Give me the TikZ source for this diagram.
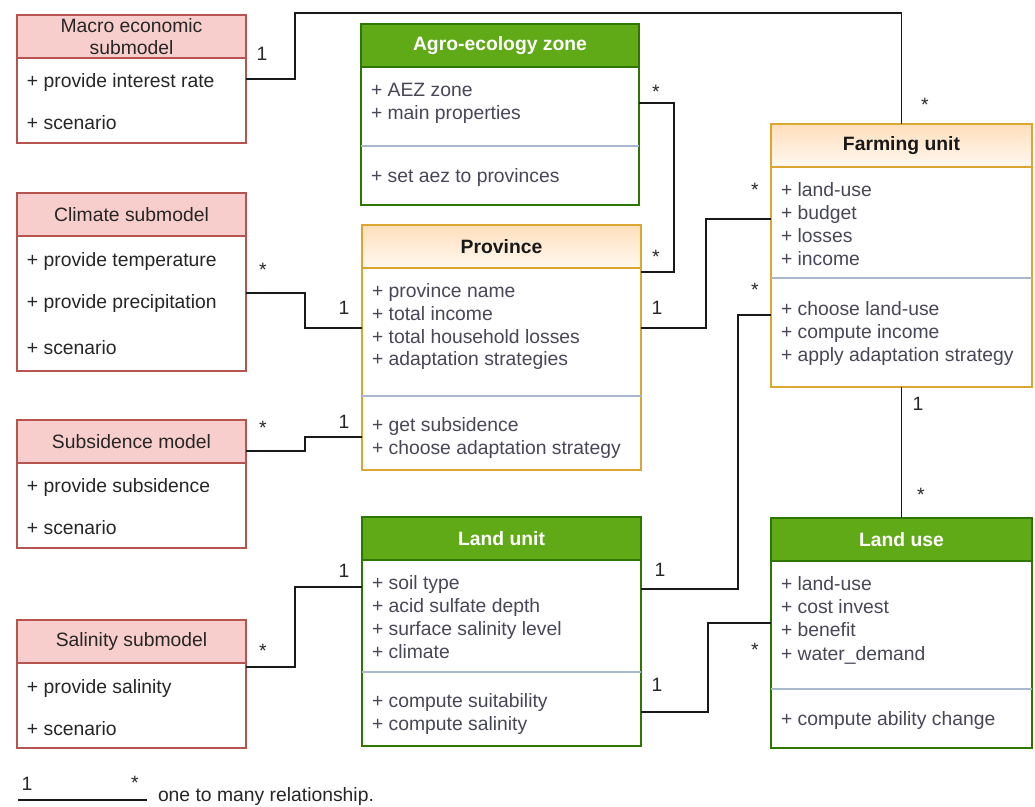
\documentclass[tikz,border=0pt]{standalone}
\usepackage{fontspec}
\setmainfont{Liberation Sans}
\usetikzlibrary{positioning}
\definecolor{redfill}{HTML}{F8CECC}
\definecolor{redline}{HTML}{B85450}
\definecolor{greenfill}{HTML}{60A917}
\definecolor{greenline}{HTML}{2D7600}
\definecolor{orangeline}{HTML}{DBA631}
\definecolor{orangetop}{HTML}{FFDFBC}
\definecolor{orangebot}{HTML}{FFF8F0}
\definecolor{itemgray}{HTML}{474757}
\definecolor{sepblue}{HTML}{A8B8CE}
\tikzset{
  every node/.style={font=\fontsize{11}{12.5}\selectfont, inner sep=0pt, outer sep=0pt},
  redhead/.style={draw=redline, line width=0.8pt, fill=redfill, minimum width=4.58cm, minimum height=0.86cm, align=center, text=black!85},
  redbody/.style={draw=redline, line width=0.8pt, fill=white, minimum width=4.58cm},
  greenhead/.style={draw=greenline, line width=0.8pt, fill=greenfill, minimum height=0.86cm, text=white, font=\fontsize{11}{12.5}\selectfont\bfseries},
  greenbody/.style={draw=greenline, line width=0.8pt, fill=white},
  orangehead/.style={draw=orangeline, line width=0.8pt, top color=orangetop, bottom color=orangebot, minimum height=0.86cm, text=black!90, font=\fontsize{11}{12.5}\selectfont\bfseries},
  orangebody/.style={draw=orangeline, line width=0.8pt, fill=white},
  item/.style={anchor=base west, text=itemgray, yshift=-0.03cm},
  reditem/.style={anchor=base west, text=black!85, yshift=-0.03cm},
  sepline/.style={draw=sepblue, line width=0.6pt},
  assoc/.style={draw=black!90, line width=0.8pt},
  mult/.style={text=black!85}
}
\begin{document}
\begin{tikzpicture}[x=0.02cm, y=-0.02cm]
\useasboundingbox (0,0) rectangle (1035,807);

% submodels
\node[redhead] (macroT) at (131.5,36.5) {Macro economic\\submodel};
\node[redbody, minimum height=1.7cm, below=0pt of macroT] (macro) {};
\foreach \y/\txt [count=\i] in {86/+ provide interest rate, 128/+ scenario}
  \node[reditem] (macro-\i) at (27,\y) {\txt};

\node[redhead] (climateT) at (131.5,214.5) {Climate submodel};
\node[redbody, minimum height=2.7cm, below=0pt of climateT] (climate) {};
\foreach \y/\txt [count=\i] in {265/+ provide temperature, 307/+ provide precipitation, 353/+ scenario}
  \node[reditem] (climate-\i) at (27,\y) {\txt};

\node[redhead] (subsidT) at (131.5,441.5) {Subsidence model};
\node[redbody, minimum height=1.7cm, below=0pt of subsidT] (subsid) {};
\foreach \y/\txt [count=\i] in {491/+ provide subsidence, 533/+ scenario}
  \node[reditem] (subsid-\i) at (27,\y) {\txt};

\node[redhead] (salinT) at (131.5,641.5) {Salinity submodel};
\node[redbody, minimum height=1.7cm, below=0pt of salinT] (salin) {};
\foreach \y/\txt [count=\i] in {692/+ provide salinity, 734/+ scenario}
  \node[reditem] (salin-\i) at (27,\y) {\txt};

% agro-ecology zone
\node[greenhead, minimum width=5.56cm] (aezT) at (500,45.5) {Agro-ecology zone};
\node[greenbody, minimum width=5.56cm, minimum height=2.76cm, below=0pt of aezT] (aez) {};
\draw[sepline] (aez.west |- 0,146) -- (aez.east |- 0,146);
\foreach \y/\txt [count=\i] in {95/+ AEZ zone, 118/+ main properties, 181/+ set aez to provinces}
  \node[item] (aez-\i) at (371,\y) {\txt};

% province
\node[orangehead, minimum width=5.58cm] (provT) at (501.5,246.5) {Province};
\node[orangebody, minimum width=5.58cm, minimum height=4.04cm, below=0pt of provT] (prov) {};
\draw[sepline] (prov.west |- 0,396) -- (prov.east |- 0,396);
\foreach \y/\txt [count=\i] in {296/+ province name, 319/+ total income, 342/+ total household losses, 364/+ adaptation strategies, 430/+ get subsidence, 453/+ choose adaptation strategy}
  \node[item] (prov-\i) at (372,\y) {\txt};

% land unit
\node[greenhead, minimum width=5.58cm] (landunitT) at (501.5,538.5) {Land unit};
\node[greenbody, minimum width=5.58cm, minimum height=3.72cm, below=0pt of landunitT] (landunit) {};
\draw[sepline] (landunit.west |- 0,672) -- (landunit.east |- 0,672);
\foreach \y/\txt [count=\i] in {588/+ soil type, 611/+ acid sulfate depth, 634/+ surface salinity level, 657/+ climate, 706/+ compute suitability, 729/+ compute salinity}
  \node[item] (landunit-\i) at (372,\y) {\txt};

% farming unit
\node[orangehead, minimum width=5.22cm] (farmT) at (901.5,145.5) {Farming unit};
\node[orangebody, minimum width=5.22cm, minimum height=4.4cm, below=0pt of farmT] (farm) {};
\draw[sepline] (farm.west |- 0,278) -- (farm.east |- 0,278);
\foreach \y/\txt [count=\i] in {195/+ land-use, 218/+ budget, 241/+ losses, 264/+ income, 314/+ choose land-use, 337/+ compute income, 360/+ apply adaptation strategy}
  \node[item] (farm-\i) at (781,\y) {\txt};

% land use
\node[greenhead, minimum width=5.22cm] (landuseT) at (901.5,539.5) {Land use};
\node[greenbody, minimum width=5.22cm, minimum height=3.74cm, below=0pt of landuseT] (landuse) {};
\draw[sepline] (landuse.west |- 0,689) -- (landuse.east |- 0,689);
\foreach \y/\txt [count=\i] in {589/+ land-use, 612/+ cost invest, 635/+ benefit, 659/+ water\_demand, 724/+ compute ability change}
  \node[item] (landuse-\i) at (781,\y) {\txt};

% associations
\draw[assoc] (macro.east |- 0,79) -| (295,13) -| (farmT.north);
\draw[assoc] (aez.east |- 0,103) -- (674,103) |- (prov.east |- 0,272);
\draw[assoc] (prov.east |- 0,328) -- (706,328) |- (farm.west |- 0,219);
\draw[assoc] (landunit.east |- 0,589) -- (738,589) |- (farm.west |- 0,315);
\draw[assoc] (farm.south) -- (landuseT.north);
\draw[assoc] (landunit.east |- 0,712) -- (708,712) |- (landuse.west |- 0,623);
\draw[assoc] (climate.east |- 0,293) -- (305,293) |- (prov.west |- 0,328);
\draw[assoc] (subsidT.east |- 0,451) -- (305,451) |- (prov.west |- 0,437);
\draw[assoc] (salin.east |- 0,667) -- (295,667) |- (landunit.west |- 0,587);

% multiplicities
\foreach \x/\y/\txt [count=\i] in {262/54/1, 925/105/*, 656/92/*, 656/257/*, 657/308/1, 755/190/*,
    660/570/1, 755/290/*, 918/404/1, 921/495/*, 657/685/1, 755/650/*,
    263/270/*, 344/308/1, 263/428/*, 344/422/1, 263/651/*, 344/571/1, 27/784/1, 135/783/*}
  \node[mult] (m-\i) at (\x,\y) {\txt};

% legend
\coordinate (legA) at (18,800);
\coordinate (legB) at (147,800);
\draw[assoc] (legA) -- (legB);
\node[anchor=west, text=black!85] (legend) at (158,797) {one to many relationship.};
\end{tikzpicture}
\end{document}
